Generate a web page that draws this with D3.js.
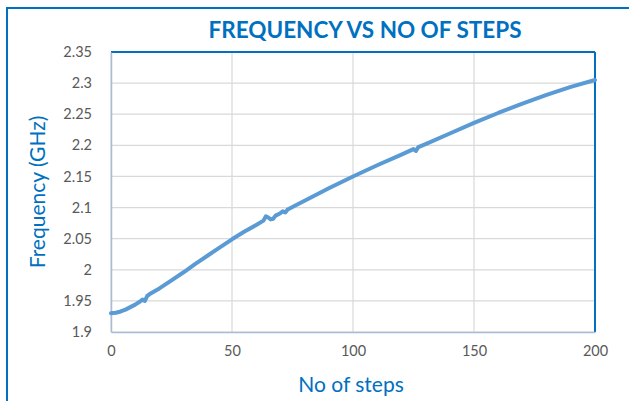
<!DOCTYPE html>
<html><head><meta charset="utf-8">
<script src="https://cdn.jsdelivr.net/npm/d3@7"></script>
<style>body{margin:0;background:#fff}svg{display:block}</style>
</head><body>
<svg id="c" width="629" height="401"></svg>
<script>
const titleText = "FREQUENCY VS NO OF STEPS";
const xLabel = "No of steps";
const yLabel = "Frequency (GHz)";
const steps = [0,2,4,6,8,10,12,13,14,15,16,20,25,30,35,40,45,50,55,60,63,64,65,66,67,68,70,71,72,73,75,80,90,100,110,120,125,126,127,130,140,150,160,170,180,190,200];
const freq  = [1.930,1.931,1.933,1.936,1.940,1.944,1.949,1.952,1.950,1.958,1.961,1.970,1.983,1.996,2.010,2.023,2.036,2.049,2.061,2.072,2.079,2.086,2.084,2.081,2.082,2.087,2.091,2.094,2.092,2.097,2.101,2.111,2.131,2.150,2.168,2.185,2.194,2.191,2.197,2.202,2.219,2.236,2.252,2.267,2.281,2.294,2.305];
const xTicks = [0,50,100,150,200];
const yTicks = [1.9,1.95,2,2.05,2.1,2.15,2.2,2.25,2.3,2.35];

const svg = d3.select("#c");
const L=111,R=595,T=52,B=332;
const x = d3.scaleLinear().domain([0,200]).range([L,R]);
const y = d3.scaleLinear().domain([1.9,2.35]).range([B,T]);
const font = "Lato, 'Open Sans', sans-serif";

// outer chart border
svg.append("rect").attr("x",7).attr("y",8).attr("width",640).attr("height",420)
  .attr("fill","none").attr("stroke","#0070C0").attr("stroke-width",2);

// gridlines
svg.append("g").selectAll("line").data(yTicks).join("line")
  .attr("x1",L).attr("x2",R).attr("y1",d=>y(d)).attr("y2",d=>y(d))
  .attr("stroke","#D9D9D9").attr("stroke-width",1.2);
svg.append("g").selectAll("line").data(xTicks).join("line")
  .attr("y1",T).attr("y2",B).attr("x1",d=>x(d)).attr("x2",d=>x(d))
  .attr("stroke","#D9D9D9").attr("stroke-width",1.2);

// plot border
svg.append("line").attr("x1",L).attr("x2",R).attr("y1",T).attr("y2",T).attr("stroke","#0070C0").attr("stroke-width",2);
svg.append("line").attr("x1",R).attr("x2",R).attr("y1",T).attr("y2",B).attr("stroke","#0070C0").attr("stroke-width",2);

// axes
const xAxis = svg.append("g").attr("transform",`translate(0,${B})`)
  .call(d3.axisBottom(x).tickValues(xTicks).tickSize(0).tickPadding(14).tickFormat(d3.format("d")));
const yAxis = svg.append("g").attr("transform",`translate(${L},0)`)
  .call(d3.axisLeft(y).tickValues(yTicks).tickSize(0).tickPadding(19).tickFormat(d=>String(+d.toFixed(2))));
[xAxis,yAxis].forEach(a=>{
  a.select(".domain").attr("stroke","#A9BCD6").attr("stroke-width",1.5);
  a.selectAll("text").attr("fill","#595959").style("font-family",font).style("font-size","14.5px");
});

// line
svg.append("path").datum(steps.map((s,i)=>[s,freq[i]]))
  .attr("fill","none").attr("stroke","#5B9BD5").attr("stroke-width",4)
  .attr("stroke-linejoin","round").attr("stroke-linecap","round")
  .attr("d",d3.line().x(d=>x(d[0])).y(d=>y(d[1])));

// titles
svg.append("text").attr("x",365).attr("y",38).attr("text-anchor","middle")
  .attr("fill","#0070C0").style("font-family",font).style("font-weight","bold").style("font-size","22.5px")
  .text(titleText);
svg.append("text").attr("x",351).attr("y",392).attr("text-anchor","middle")
  .attr("fill","#0070C0").style("font-family",font).style("font-size","21px").text(xLabel);
svg.append("text").attr("transform","translate(45,192) rotate(-90)").attr("text-anchor","middle")
  .attr("fill","#0070C0").style("font-family",font).style("font-size","21px").text(yLabel);
</script>
</body></html>
